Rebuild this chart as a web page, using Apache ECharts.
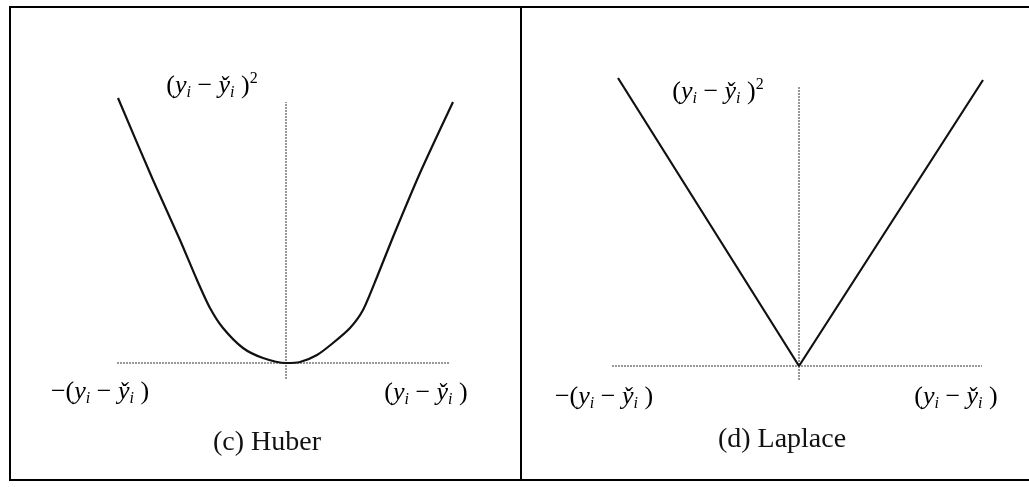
<!DOCTYPE html>
<html>
<head>
<meta charset="utf-8">
<script src="https://cdn.jsdelivr.net/npm/echarts@6/dist/echarts.min.js"></script>
<style>
  html, body { margin: 0; padding: 0; background: #fff; }
  #chart { width: 1029px; height: 487px; }
</style>
</head>
<body>
<div id="chart"></div>
<script>
// Huber loss curve: residual (x) against loss (y), read point by point
const huberX = [-168, -133, -106, -89, -76, -63, -43, -23, 0, 14, 31, 47, 64, 77, 91, 107, 134, 167];
const huberY = [265, 183, 123, 83, 55, 35, 15, 5, 0, 1, 8, 20, 35, 53, 86, 126, 190, 261];

// Laplace (absolute) loss: a V with its vertex at the origin
const laplaceX = [-181, 0, 184];
const laplaceY = [288, 0, 286];

// Reference axes drawn through the origin of each panel
const huberAxisH = [[-169, 0], [164, 0]];
const huberAxisV = [[0, -16], [0, 261]];
const laplaceAxisH = [[-187, 0], [183, 0]];
const laplaceAxisV = [[0, -14], [0, 279]];

// Axis annotations and panel captions
const lossLabel = '{p|(}{v|y}{s|i}{p| − }{v|y\u030C}{s|i}{p| )}{u|2}';
const negResidualLabel = '{p|−(}{v|y}{s|i}{p| − }{v|y\u030C}{s|i}{p| )}';
const residualLabel = '{p|(}{v|y}{s|i}{p| − }{v|y\u030C}{s|i}{p| )}';
const captions = ['(c) Huber', '(d) Laplace'];

const zip = (xs, ys) => xs.map((x, i) => [x, ys[i]]);

const mathRich = {
  p: { fontFamily: 'Liberation Serif', fontSize: 26, lineHeight: 30, color: '#111' },
  v: { fontFamily: 'Liberation Serif', fontStyle: 'italic', fontSize: 26, lineHeight: 30, color: '#111' },
  s: { fontFamily: 'Liberation Serif', fontStyle: 'italic', fontSize: 16, lineHeight: 16, verticalAlign: 'bottom', color: '#111' },
  u: { fontFamily: 'Liberation Serif', fontSize: 16, lineHeight: 16, verticalAlign: 'top', color: '#111' }
};

function mathText(x, y, text) {
  return {
    type: 'text', x: x, y: y, z: 10,
    style: { text: text, rich: mathRich, align: 'center', verticalAlign: 'middle' }
  };
}
function captionText(x, y, text) {
  return {
    type: 'text', x: x, y: y, z: 10,
    style: { text: text, fontFamily: 'Liberation Serif', fontSize: 28, fill: '#111',
             align: 'center', verticalAlign: 'middle' }
  };
}

const curveStyle = { color: '#111', width: 2.2 };
const axisStyle = { color: '#333', width: 1, type: [2, 1] };

const hiddenAxis = { type: 'value', show: false };

const chart = echarts.init(document.getElementById('chart'), null, { renderer: 'canvas' });
chart.setOption({
  backgroundColor: '#fff',
  animation: false,
  grid: [
    { left: 116, top: 98, width: 340, height: 285 },
    { left: 609, top: 76, width: 380, height: 310 }
  ],
  xAxis: [
    Object.assign({ gridIndex: 0, min: -170, max: 170 }, hiddenAxis),
    Object.assign({ gridIndex: 1, min: -190, max: 190 }, hiddenAxis)
  ],
  yAxis: [
    Object.assign({ gridIndex: 0, min: -20, max: 265 }, hiddenAxis),
    Object.assign({ gridIndex: 1, min: -20, max: 290 }, hiddenAxis)
  ],
  series: [
    { name: 'huberAxisH', type: 'line', xAxisIndex: 0, yAxisIndex: 0, data: huberAxisH,
      symbol: 'none', lineStyle: axisStyle, silent: true },
    { name: 'huberAxisV', type: 'line', xAxisIndex: 0, yAxisIndex: 0, data: huberAxisV,
      symbol: 'none', lineStyle: axisStyle, silent: true },
    { name: 'Huber', type: 'line', xAxisIndex: 0, yAxisIndex: 0, data: zip(huberX, huberY),
      symbol: 'none', smooth: 0.25, lineStyle: curveStyle, z: 3 },
    { name: 'laplaceAxisH', type: 'line', xAxisIndex: 1, yAxisIndex: 1, data: laplaceAxisH,
      symbol: 'none', lineStyle: axisStyle, silent: true },
    { name: 'laplaceAxisV', type: 'line', xAxisIndex: 1, yAxisIndex: 1, data: laplaceAxisV,
      symbol: 'none', lineStyle: axisStyle, silent: true },
    { name: 'Laplace', type: 'line', xAxisIndex: 1, yAxisIndex: 1, data: zip(laplaceX, laplaceY),
      symbol: 'none', lineStyle: curveStyle, z: 3 }
  ],
  graphic: [
    // panel frames
    { type: 'rect', shape: { x: 10, y: 7, width: 1030, height: 473 },
      style: { fill: 'none', stroke: '#000', lineWidth: 2 } },
    { type: 'line', shape: { x1: 521, y1: 7, x2: 521, y2: 480 },
      style: { stroke: '#000', lineWidth: 2 } },
    // Huber panel annotations
    mathText(212, 86, lossLabel),
    mathText(100, 392, negResidualLabel),
    mathText(426, 393, residualLabel),
    captionText(267, 443, captions[0]),
    // Laplace panel annotations
    mathText(718, 92, lossLabel),
    mathText(604, 397, negResidualLabel),
    mathText(956, 397, residualLabel),
    captionText(782, 440, captions[1])
  ]
});
</script>
</body>
</html>
